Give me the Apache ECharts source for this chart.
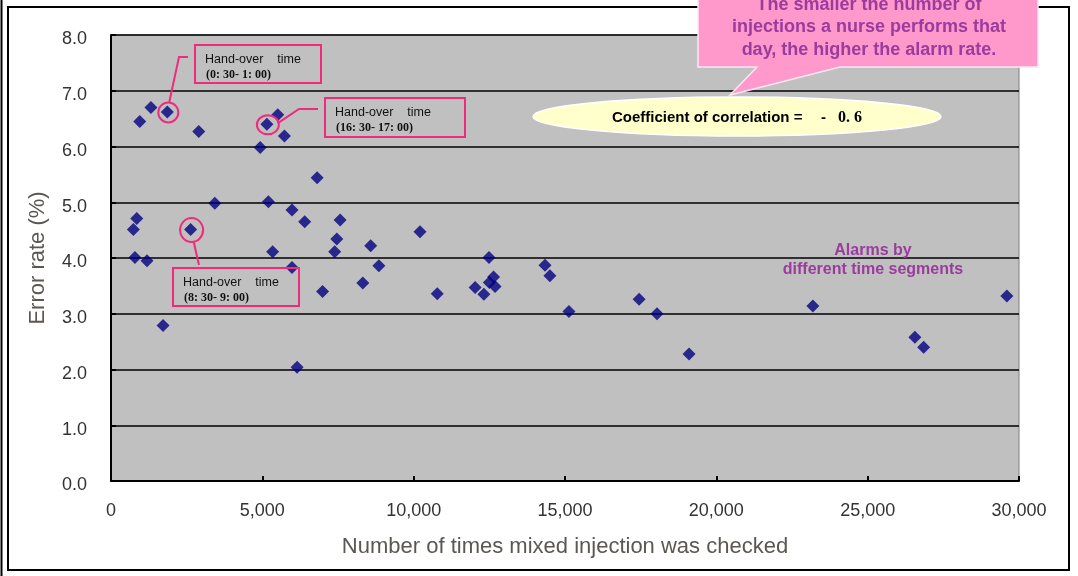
<!DOCTYPE html>
<html>
<head>
<meta charset="utf-8">
<script src="https://cdn.jsdelivr.net/npm/echarts@6/dist/echarts.min.js"></script>
<style>
html,body{margin:0;padding:0;background:#fff;}
#c{width:1078px;height:576px;}
</style>
</head>
<body>
<div id="c"></div>
<script>
// Data
const injectionsChecked = [950,1320,1860,2900,4930,5150,5510,5730,6810,3430,5200,5980,6400,7570,850,740,2630,10210,7460,8580,5340,7390,790,1190,5980,8850,12030,6990,8320,10780,1720,6150,12490,14340,14500,12640,12500,12690,12320,17450,15130,18040,19100,23190,29600,26560,26850];
const errorRates = [6.45,6.70,6.62,6.27,5.98,6.40,6.57,6.19,5.44,4.98,5.01,4.86,4.65,4.68,4.71,4.51,4.51,4.47,4.34,4.22,4.11,4.11,4.01,3.95,3.83,3.86,3.47,3.40,3.55,3.36,2.79,2.04,4.01,3.87,3.68,3.66,3.56,3.49,3.35,3.26,3.04,3.00,2.28,3.14,3.32,2.58,2.40];
const xTicks = [0,5000,10000,15000,20000,25000,30000];
const yTicks = [0,1,2,3,4,5,6,7,8];
// Circled hand-over points (indices into the arrays above)
const handover = [
  {idx:2, line1:'Hand-over    time', line2:'(0: 30- 1: 00)'},
  {idx:5, line1:'Hand-over    time', line2:'(16: 30- 17: 00)'},
  {idx:16, line1:'Hand-over    time', line2:'(8: 30- 9: 00)'}
];
const calloutLines = ['The smaller the number of','injections a nurse performs that','day, the higher the alarm rate.'];
const corrLabel = 'Coefficient of correlation =';
const corrSign = '-';
const corrValue = '0. 6';
const segLabel = ['Alarms by','different time segments'];

const points = injectionsChecked.map((x,i)=>[x, errorRates[i]]);
const chart = echarts.init(document.getElementById('c'));
const SANS = '"Liberation Sans", Arial, sans-serif';
const SERIF = '"Liberation Serif", "Times New Roman", serif';

chart.setOption({
  animation:false,
  backgroundColor:'#ffffff',
  grid:{left:111,right:59,top:35,bottom:95,show:true,backgroundColor:'#c0c0c0',borderColor:'#7f7f7f',borderWidth:1},
  xAxis:{
    type:'value',min:xTicks[0],max:xTicks[xTicks.length-1],interval:5000,
    name:'Number of times mixed injection was checked',nameLocation:'middle',nameGap:55,
    nameTextStyle:{fontFamily:SANS,fontSize:22,color:'#5b5752'},
    axisLine:{show:true,onZero:false,lineStyle:{color:'#000',width:2}},
    axisTick:{show:true,inside:true,length:5,lineStyle:{color:'#000',width:2}},
    axisLabel:{margin:21,fontFamily:SANS,fontSize:18,color:'#333',formatter:v=>v.toLocaleString('en-US')},
    splitLine:{show:false}
  },
  yAxis:{
    type:'value',min:yTicks[0],max:yTicks[yTicks.length-1],interval:1,
    name:'Error rate (%)',nameLocation:'middle',nameGap:62,
    nameTextStyle:{fontFamily:SANS,fontSize:22,color:'#5b5752'},
    axisLine:{show:true,lineStyle:{color:'#000',width:2}},
    axisTick:{show:true,inside:true,length:5,lineStyle:{color:'#000',width:2}},
    axisLabel:{margin:24,fontFamily:SANS,fontSize:18,color:'#333',verticalAlign:'top',lineHeight:9,formatter:v=>v.toFixed(1)},
    splitLine:{show:true,lineStyle:{color:'#000',width:1.6}}
  },
  series:[{
    type:'scatter',data:points,symbol:'diamond',symbolSize:[13,13],
    itemStyle:{color:'#000080'},z:3
  }]
});

const PINK = '#ef2c7b';
const g = [];
// outer frame
g.push({type:'line',shape:{x1:1.5,y1:0,x2:1.5,y2:576},style:{stroke:'#000',lineWidth:2},z:50});
g.push({type:'rect',shape:{x:8,y:7,width:1061,height:563},style:{fill:null,stroke:'#000',lineWidth:2},z:50});

// hand-over annotations
const boxes = [
  {x:195,y:45,w:126,h:38},
  {x:325,y:98,w:140,h:39},
  {x:173,y:268,w:126,h:38}
];
const circ = handover.map(h=>chart.convertToPixel({seriesIndex:0},points[h.idx]));
const radii = [[10,10],[11,9.5],[11.5,12]];
handover.forEach((h,i)=>{
  const b = boxes[i];
  g.push({type:'rect',shape:{x:b.x,y:b.y,width:b.w,height:b.h},style:{fill:null,stroke:PINK,lineWidth:2},z:60});
  g.push({type:'text',x:b.x+10,y:b.y+15,style:{text:h.line1,font:'12.5px '+SANS,fill:'#111',verticalAlign:'middle',align:'left'},z:61});
  g.push({type:'text',x:b.x+11,y:b.y+30,style:{text:h.line2,font:'bold 12px '+SERIF,fill:'#111',verticalAlign:'middle',align:'left'},z:61});
  const c = circ[i];
  g.push({type:'ellipse',shape:{cx:c[0]+1,cy:c[1]+0.5,rx:radii[i][0],ry:radii[i][1]},style:{fill:null,stroke:PINK,lineWidth:2},z:60});
});
// leader lines
{
  const c0 = circ[0];
  g.push({type:'polyline',shape:{points:[[c0[0]+2,c0[1]-10],[179,57],[188,57]]},style:{fill:null,stroke:PINK,lineWidth:2},z:60});
  const c1 = circ[1];
  g.push({type:'polyline',shape:{points:[[c1[0]+11,c1[1]-1],[299,109],[318,109]]},style:{fill:null,stroke:PINK,lineWidth:2},z:60});
  const c2 = circ[2];
  g.push({type:'polyline',shape:{points:[[c2[0]+3,c2[1]+12],[199,265]]},style:{fill:null,stroke:PINK,lineWidth:2},z:60});
}

// pink speech-bubble callout
g.push({type:'polygon',shape:{points:[[698,-4],[1038,-4],[1038,67],[840,67],[730,95],[757,67],[698,67]]},
  style:{fill:'#ff99cc',stroke:'#ffe6f2',lineWidth:1.5},z:70});
calloutLines.forEach((t,i)=>{
  g.push({type:'text',x:869,y:5+i*22.5,style:{text:t,font:'bold 18px '+SANS,fill:'#9b3b9e',align:'center',verticalAlign:'middle'},z:71});
});
// correlation ellipse
g.push({type:'ellipse',shape:{cx:737,cy:116.5,rx:204,ry:19.5},style:{fill:'#ffffcc',stroke:'#ffffff',lineWidth:1.5},z:72});
g.push({type:'text',x:612,y:118,style:{text:corrLabel,font:'bold 15px '+SANS,fill:'#000',align:'left',verticalAlign:'middle'},z:73});
g.push({type:'text',x:821,y:118,style:{text:corrSign,font:'bold 15px '+SANS,fill:'#000',align:'left',verticalAlign:'middle'},z:73});
g.push({type:'text',x:838,y:118,style:{text:corrValue,font:'bold 16px '+SERIF,fill:'#000',align:'left',verticalAlign:'middle'},z:73});

// segment label
segLabel.forEach((t,i)=>{
  g.push({type:'text',x:873,y:251+i*18.5,style:{text:t,font:'bold 16px '+SANS,fill:'#9b3b9e',align:'center',verticalAlign:'middle'},z:60});
});

chart.setOption({graphic:{elements:g}});
</script>
</body>
</html>
